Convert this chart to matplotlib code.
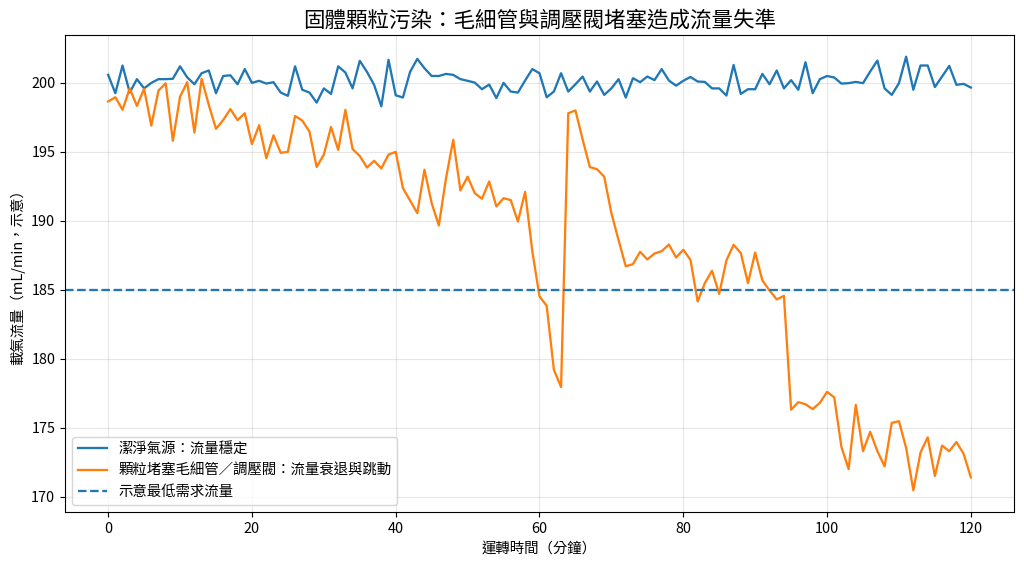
import matplotlib
matplotlib.use("Agg")
import matplotlib.pyplot as plt
import numpy as np

plt.rcParams['font.family'] = ['Noto Sans CJK TC', 'DejaVu Sans']
plt.rcParams['font.size'] = 10.4
plt.rcParams['axes.unicode_minus'] = False

# 運轉時間 (分鐘)
minutes = np.arange(0, 121)

# 潔淨氣源: 流量穩定
clean_flow = [
    200.58, 199.25, 201.26, 199.3, 200.27, 199.6, 200.0, 200.27, 200.27, 200.3,
    201.2, 200.4, 199.9, 200.7, 200.9, 199.25, 200.5, 200.55, 199.9, 201.0,
    200.0, 200.15, 199.95, 200.05, 199.3, 199.06, 201.2, 199.5, 199.3, 198.57,
    199.6, 199.2, 201.2, 200.75, 199.6, 201.6, 200.8, 199.85, 198.3, 201.67,
    199.1, 198.94, 200.8, 201.74, 201.06, 200.5, 200.5, 200.65, 200.58, 200.27,
    200.15, 200.02, 199.54, 199.88, 198.9, 200.0, 199.37, 199.3, 200.17, 201.0,
    200.7, 198.96, 199.37, 200.7, 199.37, 199.9, 200.46, 199.37, 200.1, 199.13,
    199.6, 200.27, 198.94, 200.34, 200.05, 200.46, 200.2, 201.0, 200.17, 199.8,
    200.15, 200.43, 200.1, 200.07, 199.6, 199.6, 199.08, 201.3, 199.2, 199.54,
    199.54, 200.65, 199.9, 200.9, 199.6, 200.2, 199.5, 201.5, 199.25, 200.27,
    200.5, 200.39, 199.95, 199.98, 200.07, 199.98, 200.82, 201.62, 199.6, 199.13,
    199.98, 201.9, 199.5, 201.26, 201.26, 199.7, 200.46, 201.23, 199.86, 199.93,
    199.66,
]

# 顆粒堵塞: 流量衰退與跳動
clogged_flow = [
    198.65, 198.96, 198.05, 199.6, 198.33, 199.57, 196.9, 199.44, 199.97, 195.8,
    199.0, 200.05, 196.4, 200.3, 198.4, 196.67, 197.3, 198.1, 197.3, 197.8,
    195.56, 196.93, 194.54, 196.2, 194.93, 195.0, 197.6, 197.27, 196.47, 193.9,
    194.8, 196.8, 195.14, 198.04, 195.2, 194.7, 193.86, 194.35, 193.8, 194.8,
    195.0, 192.37, 191.47, 190.56, 193.7, 191.28, 189.66, 193.1, 195.87, 192.2,
    193.2, 192.0, 191.6, 192.85, 191.04, 191.64, 191.5, 189.95, 192.1, 187.8,
    184.52, 183.84, 179.2, 177.95, 197.8, 198.0, 195.9, 193.9, 193.74, 193.2,
    190.56, 188.6, 186.7, 186.86, 187.75, 187.2, 187.63, 187.8, 188.28, 187.34,
    187.9, 187.17, 184.15, 185.48, 186.38, 184.7, 187.13, 188.26, 187.66, 185.48,
    187.7, 185.68, 184.95, 184.3, 184.56, 176.3, 176.85, 176.7, 176.35, 176.8,
    177.6, 177.2, 173.6, 172.0, 176.66, 173.3, 174.7, 173.3, 172.2, 175.35,
    175.47, 173.53, 170.46, 173.2, 174.3, 171.5, 173.7, 173.3, 173.96, 173.1,
    171.4,
]

min_required = 185

fig, ax = plt.subplots(figsize=(10.24, 5.69), dpi=100)
fig.subplots_adjust(left=0.0635, right=0.9902, top=0.9385, bottom=0.1002)

ax.plot(minutes, clean_flow, color='#1f77b4', linewidth=1.65, label='潔淨氣源：流量穩定')
ax.plot(minutes, clogged_flow, color='#ff7f0e', linewidth=1.65, label='顆粒堵塞毛細管／調壓閥：流量衰退與跳動')
ax.axhline(min_required, color='#1f77b4', linestyle='--', linewidth=1.65, label='示意最低需求流量')

ax.set_title('固體顆粒污染：毛細管與調壓閥堵塞造成流量失準', fontsize=15.5)
ax.set_xlabel('運轉時間（分鐘）')
ax.set_ylabel('載氣流量（mL/min，示意）')
ax.grid(True, alpha=0.3)
ax.legend(loc='lower left')

fig.savefig('out.png', dpi=100)
